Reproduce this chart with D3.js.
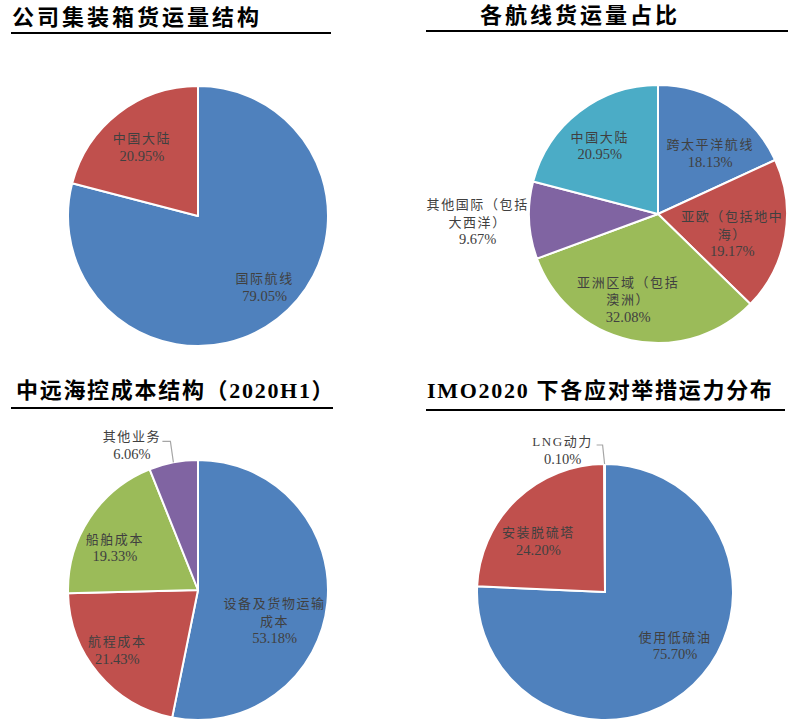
<!DOCTYPE html>
<html><head><meta charset="utf-8">
<script src="https://cdn.jsdelivr.net/npm/d3@7"></script>
<style>body{margin:0;background:#fff}svg{display:block}</style>
</head><body>
<svg id="c" width="796" height="725"></svg>
<script>
// ---- data ----
const c1Labels = [["国际航线"], ["中国大陆"]];
const c1Values = [79.05, 20.95];
const c2Labels = [["跨太平洋航线"], ["亚欧（包括地中", "海）"], ["亚洲区域（包括", "澳洲）"], ["其他国际（包括", "大西洋）"], ["中国大陆"]];
const c2Values = [18.13, 19.17, 32.08, 9.67, 20.95];
const c3Labels = [["设备及货物运输", "成本"], ["航程成本"], ["船舶成本"], ["其他业务"]];
const c3Values = [53.18, 21.43, 19.33, 6.06];
const c4Labels = [["使用低硫油"], ["安装脱硫塔"], ["LNG动力"]];
const c4Values = [75.70, 24.20, 0.10];
const titles = ["公司集装箱货运量结构", "各航线货运量占比", "中远海控成本结构（2020H1）", "IMO2020 下各应对举措运力分布"];
const palette = ["#4F81BD", "#C0504D", "#9BBB59", "#8064A2", "#4BACC6"];

const svg = d3.select("#c");
const labelFont = "'Liberation Serif','Noto Sans CJK SC',serif";

// titles
const titleSpec = [
  {x: 12, y: 25, ux1: 11, ux2: 331, uy: 33},
  {x: 480, y: 23, ux1: 426, ux2: 788, uy: 31},
  {x: 16, y: 398, ux1: 11, ux2: 333, uy: 408},
  {x: 427, y: 398, ux1: 426, ux2: 785, uy: 410}
];
titles.forEach((t, i) => {
  const s = titleSpec[i];
  svg.append("text").attr("x", s.x).attr("y", s.y).text(t)
    .attr("font-family", "'Liberation Serif','Noto Sans CJK SC',serif")
    .attr("font-weight", "bold").attr("font-size", 22)
    .attr("letter-spacing", i >= 2 ? 1.7 : 3).attr("fill", "#000");
  svg.append("line").attr("x1", s.ux1).attr("x2", s.ux2).attr("y1", s.uy).attr("y2", s.uy)
    .attr("stroke", "#000").attr("stroke-width", 2.2);
});

function drawPie(cfg) {
  const {labels, values, cx, cy, r, colors, place} = cfg;
  const pie = d3.pie().sort(null).value(d => d)(values);
  const arc = d3.arc().innerRadius(0).outerRadius(r);
  const g = svg.append("g").attr("transform", `translate(${cx},${cy})`);
  g.selectAll("path").data(pie).join("path")
    .attr("d", arc).attr("fill", (d, i) => colors[i])
    .attr("stroke", "#fff").attr("stroke-width", 2).attr("stroke-linejoin", "round");
  pie.forEach((d, i) => {
    const p = place[i];
    const a = (d.startAngle + d.endAngle) / 2;
    let x, y;
    const lines = labels[i].concat([values[i].toFixed(2) + "%"]);
    if (p.leader) {
      const ex = r * Math.sin(a), ey = -r * Math.cos(a);
      const ly = ey + p.ly, lx = ex + p.lx;
      g.append("polyline")
        .attr("points", `${ex},${ey} ${ex + (p.lbend||0)},${ly} ${lx},${ly}`)
        .attr("fill", "none").attr("stroke", "#A6A6A6").attr("stroke-width", 1.2);
      x = ex + p.dx; y = ey + p.dy;
    } else {
      x = p.k * r * Math.sin(a) + (p.dx || 0);
      y = -p.k * r * Math.cos(a) + (p.dy || 0);
    }
    const lh = 17.5;
    const t = g.append("text").attr("text-anchor", "middle")
      .attr("font-family", labelFont).attr("fill", "#404040");
    lines.forEach((ln, j) => {
      const cjk = /[\u4e00-\u9fff]/.test(ln);
      t.append("tspan").attr("x", x).attr("y", y + (j - (lines.length - 1) / 2) * lh + 4.8)
        .attr("font-size", cjk ? 13 : 14.5)
        .attr("letter-spacing", cjk ? 1.6 : 0).text(ln);
    });
  });
}

drawPie({labels: c1Labels, values: c1Values, cx: 198, cy: 216, r: 130, colors: palette,
  place: [{k: 0.75, dx: 7, dy: -6}, {k: 0.68, dx: -2, dy: 1}]});
drawPie({labels: c2Labels, values: c2Values, cx: 658, cy: 214, r: 129, colors: palette,
  place: [{k: 0.65, dx: 7, dy: 10}, {k: 0.6, dx: -2, dy: 7}, {k: 0.7, dx: -11, dy: -3}, {k: 1.4, dx: 0, dy: -1}, {k: 0.7, dx: -3, dy: 3}]});
drawPie({labels: c3Labels, values: c3Values, cx: 198, cy: 590, r: 130, colors: palette,
  place: [{k: 0.6, dx: -1, dy: 23}, {k: 0.78, dx: -3, dy: -5}, {k: 0.72, dx: -5, dy: 9}, {leader: true, ly: -21, lx: -11, lbend: -3, dx: -41.5, dy: -17}]});
drawPie({labels: c4Labels, values: c4Values, cx: 605, cy: 592, r: 128, colors: palette,
  place: [{k: 0.69, dx: 9, dy: -10}, {k: 0.66, dx: -8, dy: 10}, {leader: true, ly: -19, lx: -8, lbend: -2, dx: -42, dy: -14}]});
</script>
</body></html>
